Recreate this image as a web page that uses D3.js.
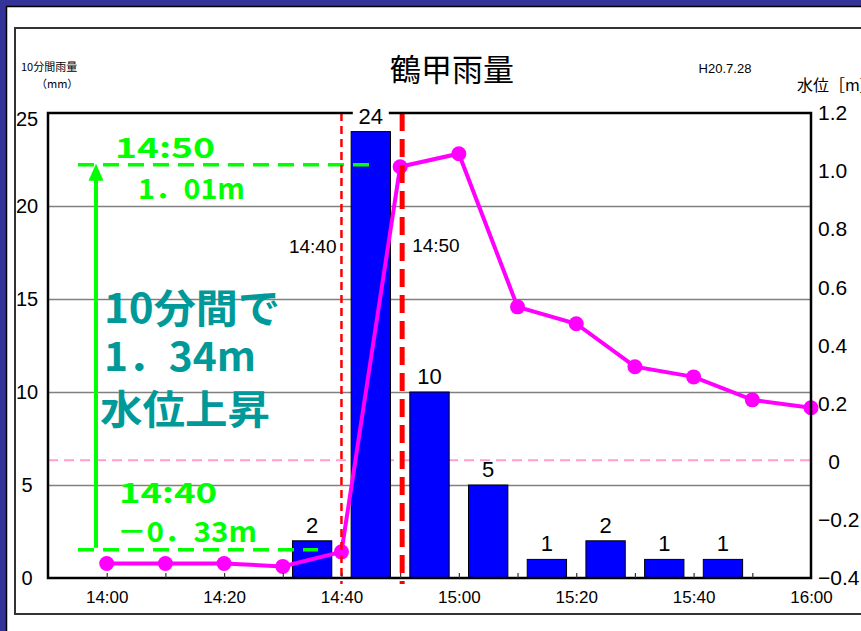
<!DOCTYPE html>
<html>
<head>
<meta charset="utf-8">
<script src="https://cdn.jsdelivr.net/npm/d3@7"></script>
<style>
  body { margin: 0; background: #333399; }
  svg { display: block; font-family: "Liberation Sans", Arial, sans-serif; }
  .jp { font-family: "Noto Sans CJK JP", sans-serif; }
</style>
</head>
<body>
<svg width="861" height="631"></svg>
<script>
// 10-minute rainfall (mm), each value is the interval ending at that time
const times = ["14:00","14:10","14:20","14:30","14:40","14:50","15:00",
               "15:10","15:20","15:30","15:40","15:50","16:00"];
const rain  = [0, 0, 0, 0, 2, 24, 10, 5, 1, 2, 1, 1, 0];
// water level (m) at each time
const level = [-0.35, -0.35, -0.35, -0.36, -0.31, 1.015, 1.06,
               0.533, 0.475, 0.327, 0.292, 0.213, 0.186];

const rainTicks  = [0, 5, 10, 15, 20, 25];
const gridTicks  = [5, 10, 15, 20];
const levelTicks = [-0.4, -0.2, 0, 0.2, 0.4, 0.6, 0.8, 1.0, 1.2];
const timeLabels = ["14:00","14:20","14:40","15:00","15:20","15:40","16:00"];

const parse = d3.timeParse("%H:%M");
const svg = d3.select("svg");

// frames
svg.append("rect").attr("x", 6.5).attr("y", 6.5).attr("width", 900).attr("height", 700)
  .attr("fill", "#fff").attr("stroke", "#000").attr("stroke-width", 1.5);
svg.append("rect").attr("x", 15).attr("y", 28).attr("width", 900).attr("height", 586)
  .attr("fill", "none").attr("stroke", "#333").attr("stroke-width", 2);

// header texts
svg.append("text").attr("class", "jp").attr("x", 452).attr("y", 81)
  .attr("text-anchor", "middle").attr("font-size", 31).text("鶴甲雨量");
svg.append("text").attr("x", 725).attr("y", 73).attr("text-anchor", "middle")
  .attr("font-size", 13).text("H20.7.28");
svg.append("text").attr("class", "jp").attr("x", 21).attr("y", 71)
  .attr("font-size", 11).text("10分間雨量");
svg.append("text").attr("class", "jp").attr("x", 36).attr("y", 88)
  .attr("font-size", 11).text("（mm）");
svg.append("text").attr("class", "jp").attr("x", 797).attr("y", 91)
  .attr("font-size", 16).text("水位［m］");

const L = 48, R = 811, T = 113, B = 578;

const x = d3.scaleTime().domain([parse("13:50"), parse("16:00")]).range([L, R]);
const xb = d3.scaleBand().domain(times).range([L, R]).paddingInner(0.33).paddingOuter(0.165);
const yL = d3.scaleLinear().domain([0, 25]).range([B, T]);
const yR = d3.scaleLinear().domain([-0.4, 1.2]).range([B, T]);

const g = svg.append("g");

// gridlines
g.append("g").attr("transform", `translate(${L},0)`)
  .call(d3.axisLeft(yL).tickValues(gridTicks).tickSize(-(R - L)).tickFormat(""))
  .call(a => a.select(".domain").remove())
  .call(a => a.selectAll("line").attr("stroke", "#808080").attr("stroke-width", 1.5));

// zero water level reference
g.append("line").attr("x1", L).attr("x2", R).attr("y1", yR(0.005)).attr("y2", yR(0.005))
  .attr("stroke", "#ff9fcf").attr("stroke-width", 2).attr("stroke-dasharray", "10,6");

// rain bars
const rainData = times.map((t, i) => ({ t, v: rain[i] })).filter(d => d.v > 0);
g.selectAll("rect.bar").data(rainData).enter().append("rect")
  .attr("class", "bar")
  .attr("x", d => xb(d.t)).attr("width", xb.bandwidth())
  .attr("y", d => yL(d.v)).attr("height", d => B - yL(d.v))
  .attr("fill", "#0000ff").attr("stroke", "#000").attr("stroke-width", 1);

// green annotation guides
const tA = parse("14:40"), tB = parse("14:50");
const iA = times.indexOf("14:40"), iB = times.indexOf("14:50");
g.append("line").attr("x1", 78).attr("x2", 375)
  .attr("y1", yR(level[iB]) - 2).attr("y2", yR(level[iB]) - 2)
  .attr("stroke", "#00ff00").attr("stroke-width", 3.5).attr("stroke-dasharray", "16,9");
g.append("line").attr("x1", 78).attr("x2", 318)
  .attr("y1", yR(level[iA]) - 2).attr("y2", yR(level[iA]) - 2)
  .attr("stroke", "#00ff00").attr("stroke-width", 3.5).attr("stroke-dasharray", "16,9");
g.append("line").attr("x1", 96).attr("x2", 96)
  .attr("y1", yR(level[iA]) - 4).attr("y2", yR(level[iB]) + 12)
  .attr("stroke", "#00ff00").attr("stroke-width", 4);
g.append("path")
  .attr("d", `M96,${yR(level[iB]) - 3}L88.5,${yR(level[iB]) + 14}L103.5,${yR(level[iB]) + 14}Z`)
  .attr("fill", "#00ff00");

// water level line
const pts = times.map((t, i) => ({ t: parse(t), v: level[i] }));
g.append("path").datum(pts)
  .attr("d", d3.line().x(d => x(d.t)).y(d => yR(d.v)))
  .attr("fill", "none").attr("stroke", "#ff00ff").attr("stroke-width", 4);
g.selectAll("circle").data(pts).enter().append("circle")
  .attr("cx", d => x(d.t)).attr("cy", d => yR(d.v)).attr("r", 7.5).attr("fill", "#ff00ff");

// red markers at 14:40 and 14:50
g.append("line").attr("x1", x(tA)).attr("x2", x(tA)).attr("y1", T).attr("y2", B + 6)
  .attr("stroke", "#ff0000").attr("stroke-width", 2.5).attr("stroke-dasharray", "8,5");
g.append("line").attr("x1", x(tB) + 2).attr("x2", x(tB) + 2).attr("y1", T).attr("y2", B + 6)
  .attr("stroke", "#ff0000").attr("stroke-width", 5).attr("stroke-dasharray", "18,8");
g.append("text").attr("x", x(tA) - 5).attr("y", 253).attr("text-anchor", "end")
  .attr("font-size", 19).text("14:40");
g.append("text").attr("x", x(tB) + 12).attr("y", 252).attr("font-size", 19).text("14:50");

// plot frame
g.append("rect").attr("x", L).attr("y", T).attr("width", R - L).attr("height", B - T)
  .attr("fill", "none").attr("stroke", "#000").attr("stroke-width", 2.5);

// bar value labels
const lab = g.selectAll("g.lab").data(rainData).enter().append("g").attr("class", "lab");
lab.filter(d => yL(d.v) - 26 < T).append("rect")
  .attr("x", d => xb(d.t) + xb.bandwidth() / 2 - 18).attr("y", T - 4)
  .attr("width", 36).attr("height", 8).attr("fill", "#fff");
lab.append("text")
  .attr("x", d => xb(d.t) + xb.bandwidth() / 2).attr("y", d => yL(d.v) - 8)
  .attr("text-anchor", "middle").attr("font-size", 22).text(d => d.v);

// x ticks (inward) and labels
g.append("g").attr("transform", `translate(0,${B})`)
  .call(d3.axisBottom(x).tickValues(times.slice(0, 12).map(parse)).tickSize(-5).tickFormat(""))
  .call(a => a.select(".domain").remove())
  .call(a => a.selectAll("line").attr("stroke", "#333").attr("stroke-width", 1.2));
g.append("g").attr("transform", `translate(0,${B})`)
  .call(d3.axisBottom(x).tickValues(timeLabels.map(parse)).tickSize(0).tickPadding(13)
    .tickFormat(d3.timeFormat("%H:%M")))
  .call(a => a.select(".domain").remove())
  .call(a => a.selectAll("text").attr("font-size", 17).attr("fill", "#000")
    .attr("font-family", "Liberation Sans, Arial, sans-serif"));

// left axis labels
g.append("g").attr("transform", `translate(${L},0)`)
  .call(d3.axisLeft(yL).tickValues(rainTicks).tickSize(0).tickFormat(d3.format("d")))
  .call(a => a.select(".domain").remove())
  .call(a => a.selectAll("text").attr("font-size", 20).attr("fill", "#000")
    .attr("text-anchor", "middle").attr("x", -21)
    .attr("y", d => d === 25 ? 6 : 0)
    .attr("font-family", "Liberation Sans, Arial, sans-serif"));

// right axis labels
const fmtR = d => d === 0 ? "0" : d3.format(".1f")(d);
g.append("g").attr("transform", `translate(${R},0)`)
  .call(d3.axisRight(yR).tickValues(levelTicks).tickSize(0).tickFormat(fmtR))
  .call(a => a.select(".domain").remove())
  .call(a => a.selectAll("text").attr("font-size", 21).attr("fill", "#000")
    .attr("font-family", "Liberation Sans, Arial, sans-serif")
    .attr("text-anchor", d => d === 0 ? "middle" : "start")
    .attr("x", d => d === 0 ? 23 : 7));

// green annotation text
const green = [
  { s: "14:50", x: 115, y: 158, w: 100 },
  { s: "1．01m", x: 138, y: 199, w: 107 },
  { s: "14:40", x: 119, y: 503, w: 98 },
  { s: "－0．33m", x: 117, y: 542, w: 140 }
];
g.selectAll("text.gr").data(green).enter().append("text")
  .attr("class", "gr jp").attr("x", d => d.x).attr("y", d => d.y)
  .attr("textLength", d => d.w).attr("lengthAdjust", "spacingAndGlyphs")
  .attr("font-size", 28).attr("font-weight", "bold").attr("fill", "#00ff00").text(d => d.s);

// teal note
const note = [
  { s: "10分間で", x: 104, y: 323, w: 176 },
  { s: "1．34m", x: 104, y: 371, w: 152 },
  { s: "水位上昇", x: 100, y: 424, w: 170 }
];
g.selectAll("text.note").data(note).enter().append("text")
  .attr("class", "note jp").attr("x", d => d.x).attr("y", d => d.y)
  .attr("textLength", d => d.w).attr("lengthAdjust", "spacingAndGlyphs")
  .attr("font-size", 40).attr("font-weight", "bold").attr("fill", "#009999").text(d => d.s);
</script>
</body>
</html>
